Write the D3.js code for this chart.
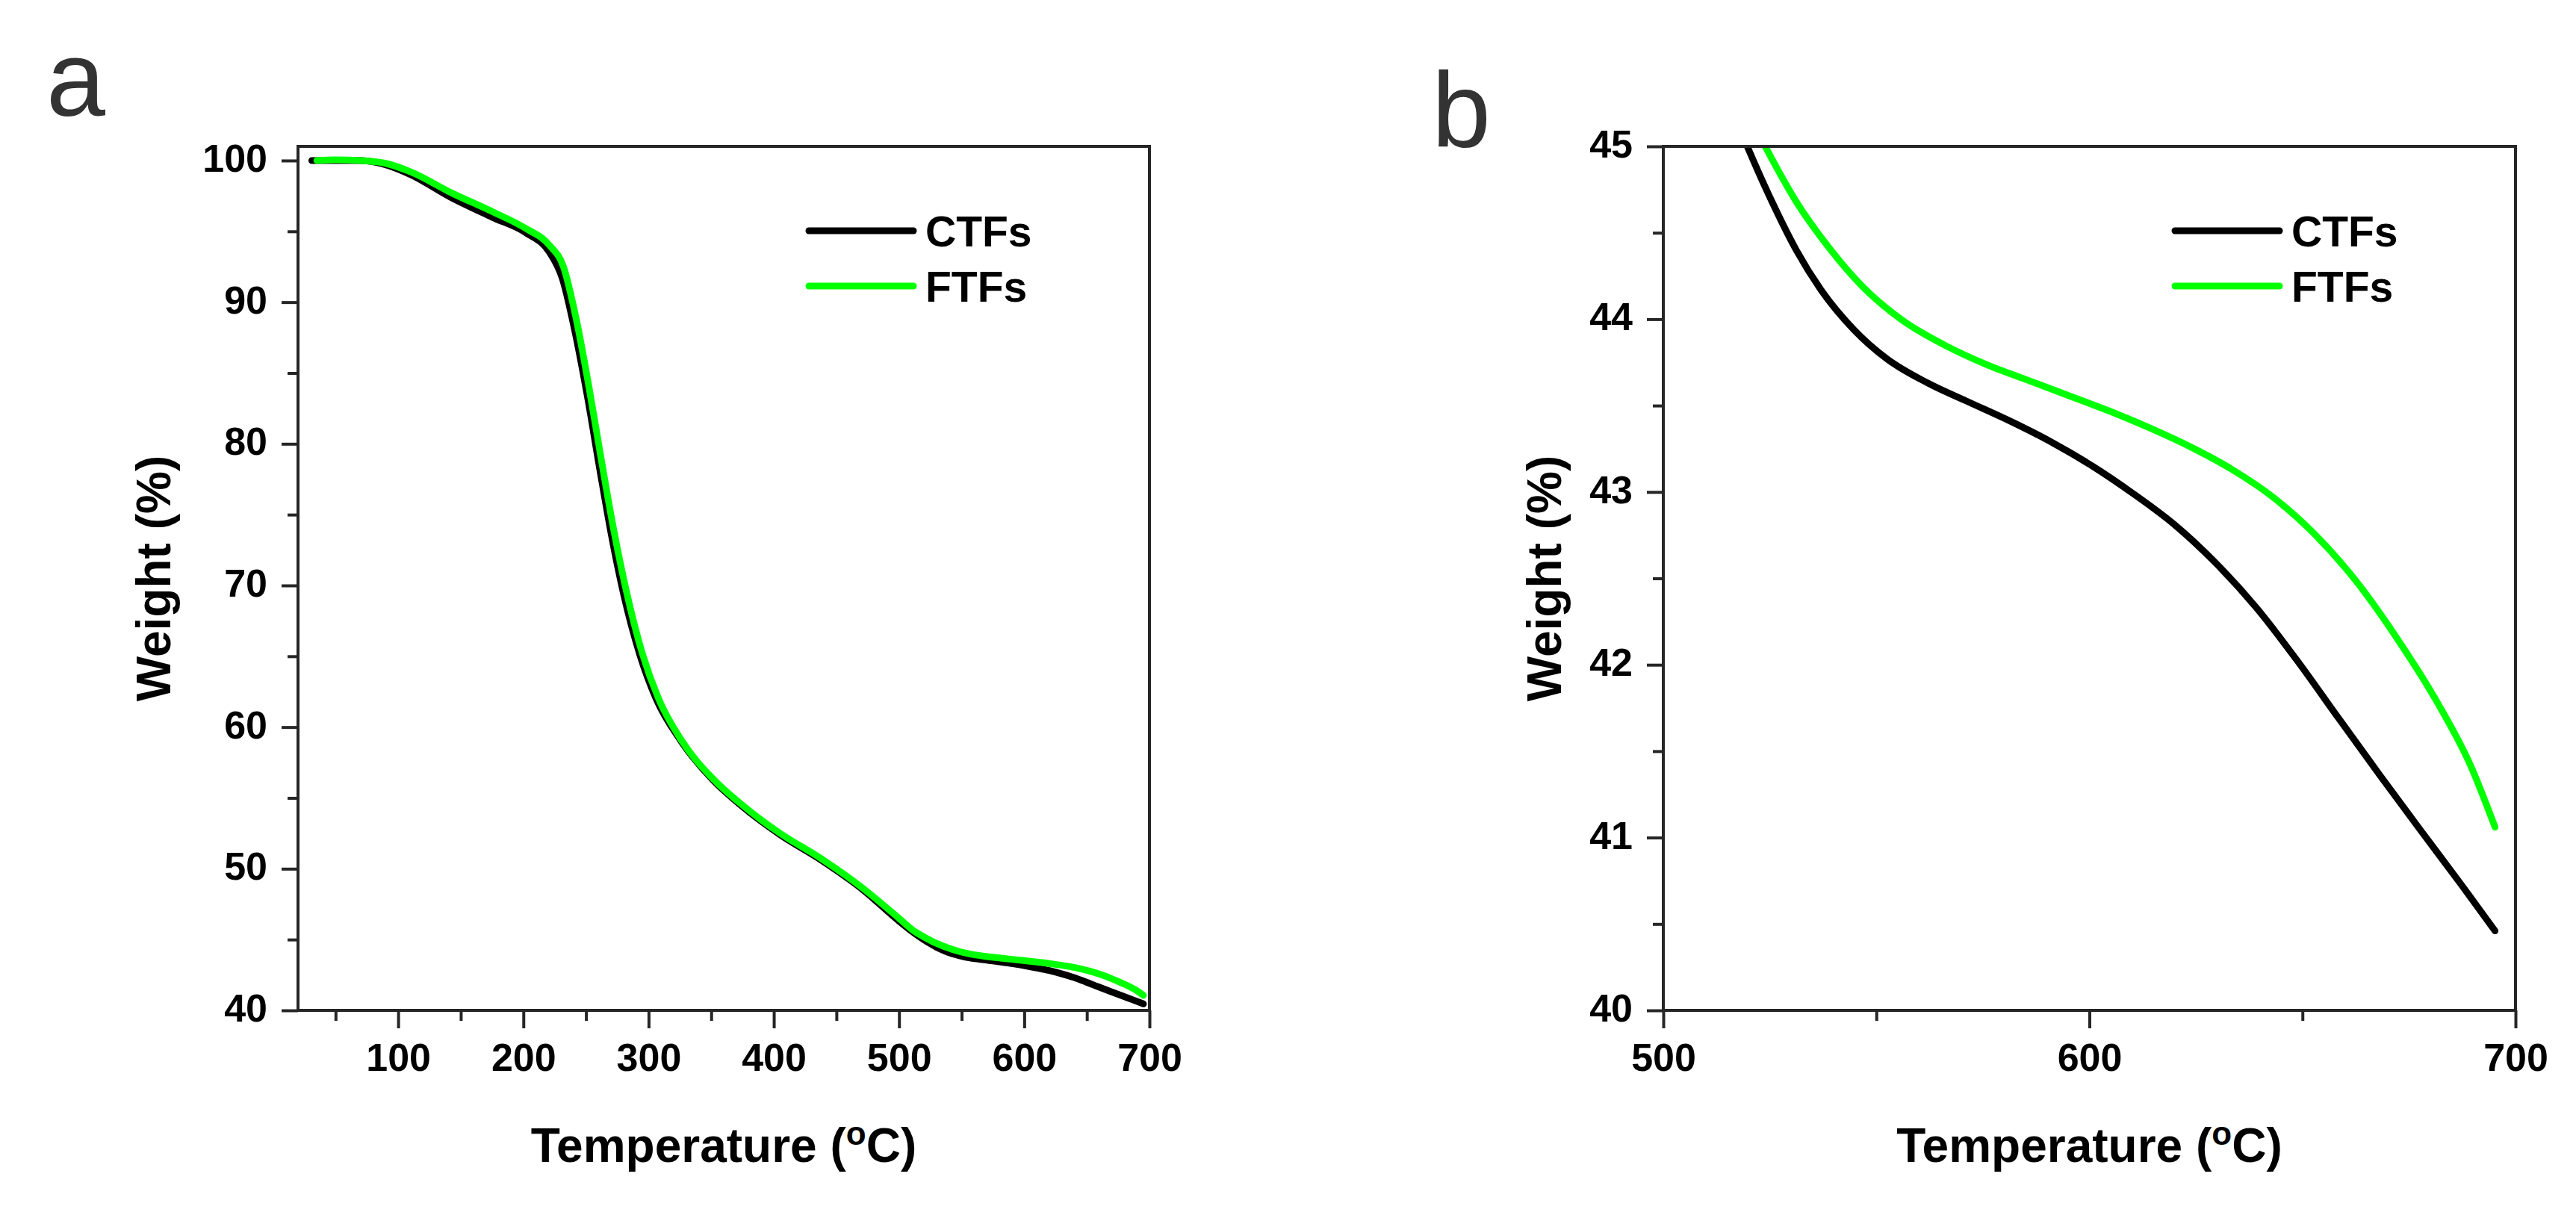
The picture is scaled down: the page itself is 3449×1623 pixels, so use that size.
<!DOCTYPE html>
<html>
<head>
<meta charset="utf-8">
<script src="https://cdn.jsdelivr.net/npm/d3@7"></script>
<style>
  body { margin: 0; background: #fff; }
  svg { display: block; }
</style>
</head>
<body>
<div id="tga"></div>
<script>
// series (temperature in °C, weight in %)
const tempCTFs = [31, 50, 70, 90, 110, 142, 175, 202, 221, 231, 241, 251, 261, 270, 280, 293, 306, 326, 352, 372, 405, 438, 470, 500, 510,
  519.7, 525.5, 531.2, 537, 544.7, 552.5, 562.1, 571.7, 581.4, 591, 600.7, 610.3, 620, 629.6, 639.2, 648.9, 658.5, 668.2, 677.8, 687.5, 695.2];
const weightCTFs = [100, 100, 100, 99.7, 99.0, 97.4, 96.0, 94.9, 93.5, 91.7, 88.0, 83.4, 78.2, 73.7, 69.4, 65.1, 62.0, 59.0, 56.2, 54.6, 52.4, 50.6, 48.6, 46.3, 45.6,
  45.0, 44.68, 44.40, 44.17, 43.94, 43.77, 43.63, 43.52, 43.41, 43.29, 43.15, 42.99, 42.81, 42.59, 42.33, 42.02, 41.69, 41.36, 41.04, 40.72, 40.46];

const tempFTFs = [35, 50, 70, 90, 110, 143, 175, 202, 221, 232, 242, 252, 262, 272, 282, 295, 308, 326, 352, 372, 405, 438, 470, 500, 512,
  523.9, 531.2, 539, 546.7, 556.3, 566, 575.6, 585.2, 594.9, 604.5, 614.2, 623.8, 633.5, 643.1, 652.7, 662.4, 672, 681.7, 689.4, 695.2];
const weightFTFs = [100, 100.05, 100, 99.8, 99.2, 97.7, 96.4, 95.2, 94.0, 92.5, 88.9, 84.2, 79.0, 74.0, 69.7, 65.2, 62.0, 59.1, 56.3, 54.7, 52.5, 50.7, 48.7, 46.5, 45.6,
  45.0, 44.68, 44.41, 44.19, 43.99, 43.85, 43.74, 43.65, 43.56, 43.47, 43.37, 43.26, 43.13, 42.97, 42.76, 42.49, 42.16, 41.78, 41.42, 41.06];

const seriesNames = ["CTFs", "FTFs"];

// tick values
const xMajorA = [100, 200, 300, 400, 500, 600, 700];
const xMinorA = [50, 150, 250, 350, 450, 550, 650];
const yMajorA = [40, 50, 60, 70, 80, 90, 100];
const yMinorA = [45, 55, 65, 75, 85, 95];
const xMajorB = [500, 600, 700];
const xMinorB = [550, 650];
const yMajorB = [40, 41, 42, 43, 44, 45];
const yMinorB = [40.5, 41.5, 42.5, 43.5, 44.5];

const colors = ["#000000", "#00ff00"];
const font = "'Liberation Sans', Arial, sans-serif";

const W = 3449, H = 1623;

const svg = d3.select("#tga")
  .append("svg")
  .attr("width", W)
  .attr("height", H);

svg.append("rect").attr("width", W).attr("height", H).attr("fill", "#fff");

const series = [
  tempCTFs.map((t, i) => ({t: t, w: weightCTFs[i]})),
  tempFTFs.map((t, i) => ({t: t, w: weightFTFs[i]}))
];

function drawPanel(p) {
  const x = d3.scaleLinear().domain(p.xDomain).range([p.left, p.right]);
  const y = d3.scaleLinear().domain(p.yDomain).range([p.bottom, p.top]);
  const g = svg.append("g");

  // clip to the frame
  g.append("clipPath").attr("id", "clip-" + p.id)
    .append("rect")
    .attr("x", p.left).attr("y", p.top)
    .attr("width", p.right - p.left).attr("height", p.bottom - p.top);

  const line = d3.line()
    .x(d => x(d.t))
    .y(d => y(d.w))
    .curve(d3.curveMonotoneX);

  g.append("g")
    .attr("clip-path", "url(#clip-" + p.id + ")")
    .selectAll("path")
    .data(series)
    .join("path")
      .attr("d", line)
      .attr("fill", "none")
      .attr("stroke", (d, i) => colors[i])
      .attr("stroke-width", 9)
      .attr("stroke-linejoin", "round")
      .attr("stroke-linecap", "round");

  // minor ticks
  g.append("g")
    .attr("transform", `translate(0,${p.bottom})`)
    .call(d3.axisBottom(x).tickValues(p.xMinor).tickSize(14).tickSizeOuter(0).tickFormat(""))
    .call(a => a.select(".domain").remove());
  g.append("g")
    .attr("transform", `translate(${p.left},0)`)
    .call(d3.axisLeft(y).tickValues(p.yMinor).tickSize(14).tickSizeOuter(0).tickFormat(""))
    .call(a => a.select(".domain").remove());

  // major ticks and labels
  const xa = g.append("g")
    .attr("transform", `translate(0,${p.bottom})`)
    .call(d3.axisBottom(x).tickValues(p.xMajor).tickSize(24).tickPadding(20).tickSizeOuter(0).tickFormat(d3.format("d")));
  const ya = g.append("g")
    .attr("transform", `translate(${p.left},0)`)
    .call(d3.axisLeft(y).tickValues(p.yMajor).tickSize(22).tickPadding(19).tickSizeOuter(0).tickFormat(d3.format("d")));
  [xa, ya].forEach(a => {
    a.select(".domain").remove();
    a.selectAll("text")
      .attr("font-family", font)
      .attr("font-weight", "bold")
      .attr("font-size", 52)
      .attr("fill", "#000");
  });
  ya.selectAll("text").attr("dy", "0.28em");
  g.selectAll(".tick line").attr("stroke", "#262626").attr("stroke-width", 4);

  // frame
  g.append("rect")
    .attr("x", p.left).attr("y", p.top)
    .attr("width", p.right - p.left).attr("height", p.bottom - p.top)
    .attr("fill", "none")
    .attr("stroke", "#262626")
    .attr("stroke-width", 4);

  // axis titles
  const xt = g.append("text")
    .attr("x", (p.left + p.right) / 2)
    .attr("y", 1556)
    .attr("text-anchor", "middle")
    .attr("font-family", font)
    .attr("font-weight", "bold")
    .attr("font-size", 64)
    .attr("fill", "#000");
  xt.append("tspan").text("Temperature (");
  xt.append("tspan").attr("font-size", 44).attr("dy", -23).text("o");
  xt.append("tspan").attr("dy", 23).text("C)");

  g.append("text")
    .attr("transform", `translate(${p.yTitleX},${(p.top + p.bottom) / 2}) rotate(-90)`)
    .attr("text-anchor", "middle")
    .attr("font-family", font)
    .attr("font-weight", "bold")
    .attr("font-size", 64)
    .attr("fill", "#000")
    .text("Weight (%)");

  // legend
  const lg = g.append("g")
    .selectAll("g")
    .data(seriesNames)
    .join("g")
      .attr("transform", (d, i) => `translate(${p.right - 456},${309 + i * 74})`);
  lg.append("line")
    .attr("x1", 0).attr("x2", 140)
    .attr("stroke", (d, i) => colors[i])
    .attr("stroke-width", 9)
    .attr("stroke-linecap", "round");
  lg.append("text")
    .attr("x", 156).attr("y", 21)
    .attr("font-family", font)
    .attr("font-weight", "bold")
    .attr("font-size", 57)
    .attr("fill", "#000")
    .text(d => d);

  // panel letter
  svg.append("text")
    .attr("x", p.letterX).attr("y", p.letterY)
    .attr("font-family", font)
    .attr("font-size", 142)
    .attr("fill", "#333")
    .text(p.letter);
}

drawPanel({
  id: "a", letter: "a", letterX: 62, letterY: 155,
  left: 399, right: 1539, top: 196, bottom: 1353,
  xDomain: [20, 700], yDomain: [40, 101],
  xMajor: xMajorA, xMinor: xMinorA, yMajor: yMajorA, yMinor: yMinorA,
  yTitleX: 228
});

drawPanel({
  id: "b", letter: "b", letterX: 1917, letterY: 197,
  left: 2227, right: 3368, top: 196, bottom: 1353,
  xDomain: [500, 700], yDomain: [40, 45],
  xMajor: xMajorB, xMinor: xMinorB, yMajor: yMajorB, yMinor: yMinorB,
  yTitleX: 2090
});
</script>
</body>
</html>
